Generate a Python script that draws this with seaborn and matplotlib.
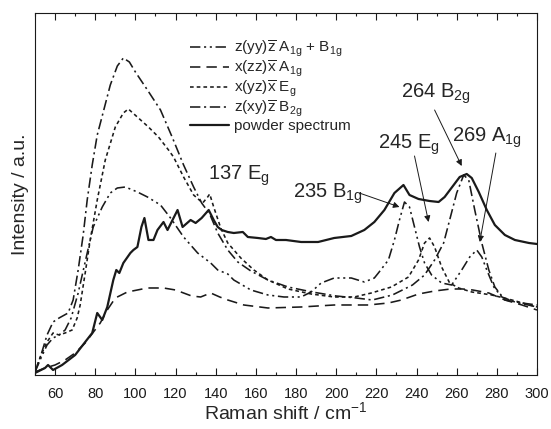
import matplotlib
matplotlib.use('Agg')
import matplotlib.pyplot as plt
import seaborn as sns
from matplotlib.ticker import MultipleLocator

sns.set_theme(style='ticks')
plt.rcParams['font.family'] = ['Liberation Sans', 'DejaVu Sans']
plt.rcParams['mathtext.fontset'] = 'custom'
plt.rcParams['mathtext.rm'] = 'Liberation Sans'
plt.rcParams['mathtext.it'] = 'Liberation Sans:italic'
plt.rcParams['mathtext.bf'] = 'Liberation Sans:bold'

# powder spectrum
powder_x = [50, 55, 56.5, 59, 63.5, 70, 75, 78.5, 81, 83.5, 86, 89, 90.5, 92, 94, 97.5, 99, 101,
            103, 104.5, 106.5, 109, 111, 114, 116, 118, 121, 123.5, 127.5, 130, 133, 136.5, 139,
            141, 143, 146, 149, 153.5, 156, 161, 165, 167.5, 170, 175, 182.5, 191, 199, 207.5,
            214, 219, 224, 229, 233.5, 236.5, 241, 246.5, 251, 254, 258.5, 261.5, 265, 267.5,
            271, 275, 279, 284, 289, 296, 300]
powder_y = [2, 7, 10, 5, 10, 20, 33, 42, 62, 55, 68, 95, 105, 102, 112, 122, 125, 128,
            148, 157, 135, 135, 145, 153, 145, 153, 165, 148, 155, 152, 157, 165, 155,
            148, 145, 143, 142, 143, 138, 137, 136, 138, 135, 135, 133, 133, 137, 139,
            145, 153, 165, 182, 190, 180, 176, 174, 173, 178, 190, 198, 201, 197,
            183, 165, 150, 140, 135, 132, 131]

# x(yz)x Eg
eg_x = [50, 53, 56, 59, 62, 65, 68.5, 71, 72.5, 75, 77.5, 81, 85, 90, 94, 96.5, 101.5, 106.5,
        111.5, 116.5, 119, 124, 129, 133.5, 136, 137, 139, 142.5, 146, 152.5, 159, 166, 176,
        187.5, 199, 209, 217.5, 227.5, 236, 241, 244, 246.5, 249, 252.5, 256.5, 261, 267.5,
        277.5, 287.5, 300]
eg_y = [3, 20, 33, 42, 40, 42, 45, 57, 70, 102, 135, 175, 215, 248, 262, 266, 257, 248,
        238, 225, 218, 198, 180, 172, 178, 181, 168, 147, 132, 117, 105, 95, 86,
        81, 78, 78, 82, 88, 98, 115, 132, 137, 128, 108, 92, 87, 83,
        80, 75, 68]

# z(xy)z B2g
b2g_x = [50, 53, 56, 59, 62, 66.5, 69, 71.5, 74, 76, 78.5, 81, 84, 87.5, 91, 94, 97, 100, 106,
         112.5, 118.5, 124, 129, 133, 137, 141, 146, 151, 157.5, 166, 176, 188, 200, 210, 218,
         228, 238, 244, 249, 253.5, 256.5, 260, 263.5, 266, 269, 272.5, 276, 279, 284, 292.5, 300]
b2g_y = [3, 20, 40, 53, 57, 62, 75, 105, 140, 175, 210, 240, 263, 290, 309, 317, 313, 303, 285,
         265, 237, 210, 188, 172, 161, 142, 125, 113, 104, 95, 88, 83, 79, 77, 75,
         80, 90, 100, 115, 132, 155, 182, 200, 195, 165, 132, 105, 88, 75, 72, 70]

# z(yy)z A1g + B1g
yy_x = [50, 53, 56, 59, 62, 65, 68, 71.5, 76, 79, 83.5, 87.5, 91, 95, 101, 106, 112.5, 117.5,
        124, 131, 137.5, 141, 146, 149, 157.5, 166, 174, 182.5, 187.5, 192.5, 199, 207.5, 214,
        219, 221, 226, 229, 231.5, 234, 236.5, 239, 241.5, 244, 247.5, 252.5, 257.5, 262.5,
        266.5, 270, 272.5, 275, 278.5, 282.5, 289, 300]
yy_y = [3, 17, 30, 37, 40, 45, 57, 82, 122, 148, 168, 182, 187, 188, 183, 178, 170, 157,
        138, 122, 112, 105, 101, 95, 85, 80, 78, 78, 83, 92, 97, 97, 93,
        97, 102, 115, 135, 155, 173, 168, 148, 128, 112, 100, 92, 90, 105,
        118, 125, 118, 105, 88, 78, 73, 68]

# x(zz)x A1g
zz_x = [50, 55, 60, 65, 70, 75, 78, 82.5, 86, 90, 96, 101, 106, 114, 120, 124, 128, 132.5,
        137.5, 142, 146, 154, 166, 182.5, 199, 216, 226, 232.5, 241, 249, 257, 263, 268, 276,
        284, 292.5, 300]
zz_y = [3, 7, 10, 15, 22, 32, 40, 52, 65, 77, 83, 85, 87, 87, 85, 82, 79, 78,
        82, 78, 75, 70, 67, 68, 70, 70, 72, 75, 81, 84, 86, 86, 85, 82,
        75, 70, 65]

series = [
    (yy_x, yy_y, r'z(yy)$\overline{\rm z}$ A$_{\rm 1g}$ + B$_{\rm 1g}$', (0, (6.5, 2.3, 1.3, 2.3, 1.3, 2.3)), 1.15),
    (zz_x, zz_y, r'x(zz)$\overline{\rm x}$ A$_{\rm 1g}$', (0, (6.5, 3.8)), 1.15),
    (eg_x, eg_y, r'x(yz)$\overline{\rm x}$ E$_{\rm g}$', (0, (2.3, 1.9)), 1.15),
    (b2g_x, b2g_y, r'z(xy)$\overline{\rm z}$ B$_{\rm 2g}$', (0, (6.5, 2.3, 1.3, 2.3)), 1.15),
    (powder_x, powder_y, 'powder spectrum', '-', 1.6),
]

fig = plt.figure(figsize=(5.51, 4.29), dpi=100)
ax = fig.add_axes([0.0635, 0.1259, 0.9111, 0.8438])

for xs, ys, lab, ls, lw in series:
    sns.lineplot(x=xs, y=ys, ax=ax, color='k', linestyle=ls, lw=lw, label=lab,
                 estimator=None, sort=False)

ax.set_xlim(50, 300)
ax.set_ylim(0, 362)
ax.xaxis.set_major_locator(MultipleLocator(20))
ax.xaxis.set_minor_locator(MultipleLocator(10))
ax.tick_params(axis='x', which='both', direction='in', top=True, bottom=True,
               width=0.8, colors='k', labelsize=10.5, pad=9)
ax.tick_params(axis='x', which='major', length=5)
ax.tick_params(axis='x', which='minor', length=2.5)
ax.set_yticks([])
for sp in ax.spines.values():
    sp.set_visible(True)
    sp.set_linewidth(0.8)
    sp.set_color('k')

ax.set_xlabel(r'Raman shift / cm$^{-1}$', fontsize=14, labelpad=0)
ax.set_ylabel('Intensity / a.u.', fontsize=14, labelpad=4)

ax.legend(loc='upper left', bbox_to_anchor=(0.293, 0.95), frameon=False, fontsize=11,
          handlelength=2.6, handletextpad=0.3, labelspacing=0.0, borderpad=0)

# peak labels
arw = dict(arrowstyle='-|>', color='k', lw=0.7, mutation_scale=9, shrinkA=0, shrinkB=0)
ax.text(136, 195, r'137 E$_{\rm g}$', fontsize=14.5)
ax.text(178.5, 177, r'235 B$_{\rm 1g}$', fontsize=14.5)
ax.annotate('', xy=(231.5, 168), xytext=(211.5, 182), arrowprops=arw)
ax.text(221, 226, r'245 E$_{\rm g}$', fontsize=14.5)
ax.annotate('', xy=(246, 153), xytext=(239, 219), arrowprops=arw)
ax.text(232.5, 277, r'264 B$_{\rm 2g}$', fontsize=14.5)
ax.annotate('', xy=(262.5, 209), xytext=(249, 265), arrowprops=arw)
ax.text(257.5, 233, r'269 A$_{\rm 1g}$', fontsize=14.5)
ax.annotate('', xy=(271.5, 133), xytext=(279.5, 222), arrowprops=arw)

fig.savefig('out.png', dpi=100)
